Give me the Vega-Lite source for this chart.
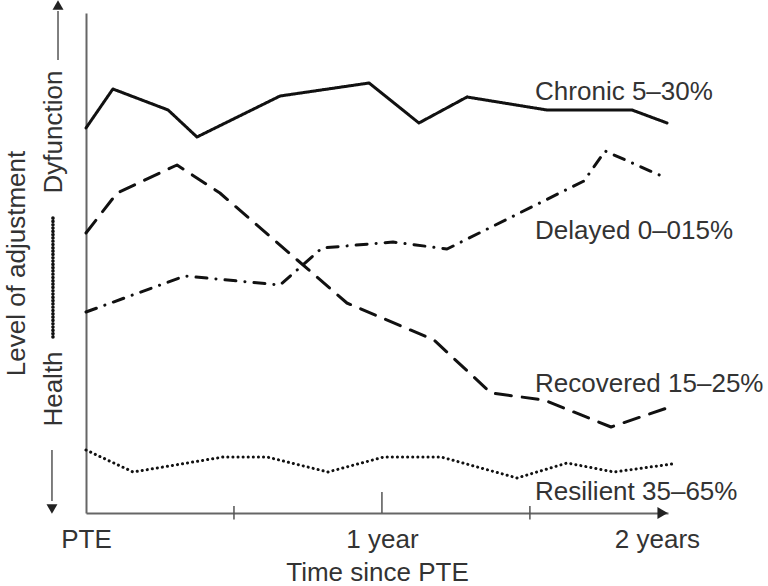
{
  "$schema": "https://vega.github.io/schema/vega-lite/v6.json",
  "width": 582,
  "height": 500,
  "autosize": {"type": "none"},
  "padding": {"left": 86, "top": 13, "right": 100, "bottom": 73},
  "background": "white",
  "config": {
    "view": {"stroke": null},
    "font": "Liberation Sans",
    "text": {"font": "Liberation Sans"}
  },
  "datasets": {
    "series": [
      {"series": "Chronic", "month": 0, "level": 77.0},
      {"series": "Chronic", "month": 1.09, "level": 84.8},
      {"series": "Chronic", "month": 3.33, "level": 80.6},
      {"series": "Chronic", "month": 4.5, "level": 75.2},
      {"series": "Chronic", "month": 7.87, "level": 83.4},
      {"series": "Chronic", "month": 11.48, "level": 86.0},
      {"series": "Chronic", "month": 13.5, "level": 78.0},
      {"series": "Chronic", "month": 15.45, "level": 83.2},
      {"series": "Chronic", "month": 18.69, "level": 80.6},
      {"series": "Chronic", "month": 22.14, "level": 80.6},
      {"series": "Chronic", "month": 23.56, "level": 78.0},
      {"series": "Recovered", "month": 0, "level": 56.0},
      {"series": "Recovered", "month": 1.26, "level": 64.0},
      {"series": "Recovered", "month": 3.69, "level": 69.6},
      {"series": "Recovered", "month": 5.43, "level": 64.0},
      {"series": "Recovered", "month": 10.58, "level": 42.0},
      {"series": "Recovered", "month": 14.11, "level": 34.6},
      {"series": "Recovered", "month": 16.42, "level": 24.0},
      {"series": "Recovered", "month": 18.57, "level": 22.6},
      {"series": "Recovered", "month": 21.29, "level": 17.2},
      {"series": "Recovered", "month": 23.56, "level": 21.0},
      {"series": "Delayed", "month": 0, "level": 40.2},
      {"series": "Delayed", "month": 4.01, "level": 47.4},
      {"series": "Delayed", "month": 7.87, "level": 45.6},
      {"series": "Delayed", "month": 9.57, "level": 53.0},
      {"series": "Delayed", "month": 12.45, "level": 54.2},
      {"series": "Delayed", "month": 14.64, "level": 52.8},
      {"series": "Delayed", "month": 20.19, "level": 66.4},
      {"series": "Delayed", "month": 21.05, "level": 72.4},
      {"series": "Delayed", "month": 23.52, "level": 67.0},
      {"series": "Resilient", "month": 0, "level": 12.6},
      {"series": "Resilient", "month": 1.91, "level": 8.2},
      {"series": "Resilient", "month": 5.56, "level": 11.2},
      {"series": "Resilient", "month": 7.34, "level": 11.2},
      {"series": "Resilient", "month": 9.81, "level": 8.2},
      {"series": "Resilient", "month": 12.08, "level": 11.2},
      {"series": "Resilient", "month": 14.4, "level": 11.2},
      {"series": "Resilient", "month": 17.48, "level": 7.0},
      {"series": "Resilient", "month": 19.51, "level": 10.0},
      {"series": "Resilient", "month": 21.41, "level": 8.2},
      {"series": "Resilient", "month": 23.76, "level": 9.8}
    ],
    "labels": [
      {"label": "Chronic 5–30%", "month": 18.21, "level": 82.6},
      {"label": "Delayed 0–015%", "month": 18.21, "level": 54.8},
      {"label": "Recovered 15–25%", "month": 18.21, "level": 24.2},
      {"label": "Resilient 35–65%", "month": 18.21, "level": 2.6}
    ]
  },
  "layer": [
    {
      "data": {"name": "series"},
      "mark": {"type": "line", "color": "#111", "strokeWidth": 3, "strokeCap": "round", "strokeJoin": "round"},
      "encoding": {
        "x": {
          "field": "month", "type": "quantitative",
          "scale": {"domain": [0, 23.6], "nice": false, "zero": false},
          "axis": {
            "title": "Time since PTE",
            "values": [0, 12, 23.15],
            "labelExpr": "datum.value == 0 ? 'PTE' : datum.value == 12 ? '1 year' : '2 years'",
            "grid": false, "ticks": false, "tickSize": 0,
            "domainColor": "#666", "domainWidth": 2,
            "labelFont": "Liberation Sans", "labelFontSize": 26, "labelColor": "#333",
            "labelBaseline": "alphabetic", "labelPadding": 34, "labelFlush": false, "labelOverlap": false,
            "titleFont": "Liberation Sans", "titleFontSize": 26, "titleFontWeight": "normal", "titleColor": "#333",
            "titleBaseline": "alphabetic", "titlePadding": 28
          }
        },
        "y": {
          "field": "level", "type": "quantitative",
          "scale": {"domain": [0, 100], "nice": false, "zero": false},
          "axis": {
            "title": "Level of adjustment",
            "values": [24.9, 76.3],
            "labelExpr": "datum.value > 50 ? 'Dyfunction' : 'Health'",
            "labelAngle": -90, "labelAlign": "center", "labelBaseline": "alphabetic",
            "grid": false, "ticks": false, "tickSize": 0,
            "domainColor": "#666", "domainWidth": 2,
            "labelFont": "Liberation Sans", "labelFontSize": 26, "labelColor": "#333",
            "labelPadding": 25, "labelFlush": false, "labelOverlap": false,
            "titleFont": "Liberation Sans", "titleFontSize": 26, "titleFontWeight": "normal", "titleColor": "#333",
            "titleBaseline": "alphabetic", "titlePadding": 16
          }
        },
        "strokeDash": {
          "field": "series", "type": "nominal",
          "scale": {"domain": ["Chronic", "Delayed", "Recovered", "Resilient"],
                    "range": [[1, 0], [11, 9, 0.1, 9], [16, 11], [0.1, 5]]},
          "legend": null
        }
      }
    },
    {
      "data": {"name": "labels"},
      "mark": {"type": "text", "align": "left", "baseline": "alphabetic", "fontSize": 26, "font": "Liberation Sans", "color": "#333"},
      "encoding": {
        "x": {"field": "month", "type": "quantitative", "scale": {"domain": [0, 23.6], "nice": false, "zero": false}},
        "y": {"field": "level", "type": "quantitative", "scale": {"domain": [0, 100], "nice": false, "zero": false}},
        "text": {"field": "label"}
      }
    },
    {
      "data": {"values": [{"month": 6}, {"month": 18}]},
      "mark": {"type": "rule", "color": "#555", "strokeWidth": 1.5},
      "encoding": {
        "x": {"field": "month", "type": "quantitative", "scale": {"domain": [0, 23.6], "nice": false, "zero": false}},
        "y": {"datum": -1.3, "type": "quantitative", "scale": {"domain": [0, 100], "nice": false, "zero": false}},
        "y2": {"datum": 1.4}
      }
    },
    {
      "data": {"values": [{"month": 12}]},
      "mark": {"type": "rule", "color": "#555", "strokeWidth": 1.5},
      "encoding": {
        "x": {"field": "month", "type": "quantitative", "scale": {"domain": [0, 23.6], "nice": false, "zero": false}},
        "y": {"datum": 0, "type": "quantitative", "scale": {"domain": [0, 100], "nice": false, "zero": false}},
        "y2": {"datum": 4.2}
      }
    },
    {
      "data": {"values": [{}]},
      "mark": {"type": "point", "shape": "triangle-right", "filled": true, "color": "#222", "size": 140, "opacity": 1},
      "encoding": {
        "x": {"datum": 23.38, "type": "quantitative", "scale": {"domain": [0, 23.6], "nice": false, "zero": false}},
        "y": {"datum": 0, "type": "quantitative", "scale": {"domain": [0, 100], "nice": false, "zero": false}}
      }
    },
    {
      "data": {"values": [{}]},
      "mark": {"type": "rule", "color": "#555", "strokeWidth": 1.5},
      "encoding": {
        "x": {"datum": -1.135, "type": "quantitative", "scale": {"domain": [0, 23.6], "nice": false, "zero": false}},
        "y": {"datum": 90.6, "type": "quantitative", "scale": {"domain": [0, 100], "nice": false, "zero": false}},
        "y2": {"datum": 100.4}
      }
    },
    {
      "data": {"values": [{}]},
      "mark": {"type": "point", "shape": "triangle-up", "filled": true, "color": "#222", "size": 120, "opacity": 1},
      "encoding": {
        "x": {"datum": -1.135, "type": "quantitative", "scale": {"domain": [0, 23.6], "nice": false, "zero": false}},
        "y": {"datum": 101.6, "type": "quantitative", "scale": {"domain": [0, 100], "nice": false, "zero": false}}
      }
    },
    {
      "data": {"values": [{}]},
      "mark": {"type": "rule", "color": "#111", "strokeWidth": 3.6, "strokeDash": [0.1, 3.2], "strokeCap": "round"},
      "encoding": {
        "x": {"datum": -1.34, "type": "quantitative", "scale": {"domain": [0, 23.6], "nice": false, "zero": false}},
        "y": {"datum": 35.2, "type": "quantitative", "scale": {"domain": [0, 100], "nice": false, "zero": false}},
        "y2": {"datum": 59.0}
      }
    },
    {
      "data": {"values": [{}]},
      "mark": {"type": "rule", "color": "#555", "strokeWidth": 1.5},
      "encoding": {
        "x": {"datum": -1.38, "type": "quantitative", "scale": {"domain": [0, 23.6], "nice": false, "zero": false}},
        "y": {"datum": 2.4, "type": "quantitative", "scale": {"domain": [0, 100], "nice": false, "zero": false}},
        "y2": {"datum": 12.6}
      }
    },
    {
      "data": {"values": [{}]},
      "mark": {"type": "point", "shape": "triangle-down", "filled": true, "color": "#222", "size": 120, "opacity": 1},
      "encoding": {
        "x": {"datum": -1.38, "type": "quantitative", "scale": {"domain": [0, 23.6], "nice": false, "zero": false}},
        "y": {"datum": 0.8, "type": "quantitative", "scale": {"domain": [0, 100], "nice": false, "zero": false}}
      }
    }
  ]
}
